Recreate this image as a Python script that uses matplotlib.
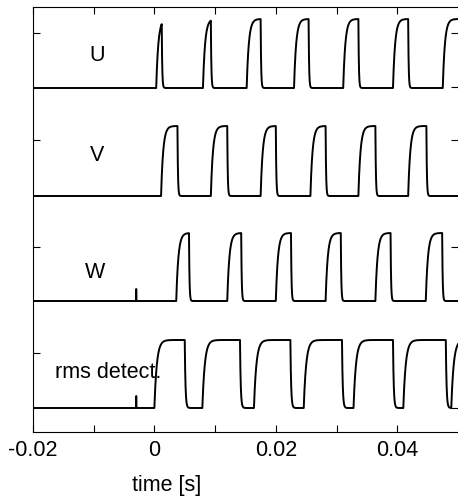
# Three phase signals U, V, W and the rms detector output

import numpy as np
import matplotlib.pyplot as plt

plt.rcParams['font.family'] = ['Liberation Sans', 'DejaVu Sans']

names = ["U", "V", "W", "rms detect."]

# (on, off) times of each high segment [s]
u_pulses = [(0.0003, 0.0012), (0.0080, 0.0093), (0.0152, 0.0175), (0.0230, 0.0254),
            (0.0311, 0.0336), (0.0393, 0.0418), (0.0475, 0.0600)]
v_pulses = [(0.0011, 0.0038), (0.0093, 0.0120), (0.0175, 0.0200), (0.0257, 0.0282),
            (0.0336, 0.0364), (0.0418, 0.0448)]
w_pulses = [(0.0036, 0.0057), (0.0120, 0.0143), (0.0200, 0.0225), (0.0282, 0.0307),
            (0.0364, 0.0389), (0.0447, 0.0474)]
rms_pulses = [(0.0000, 0.0050), (0.0079, 0.0141), (0.0164, 0.0224), (0.0246, 0.0309),
              (0.0328, 0.0393), (0.0410, 0.0480), (0.0489, 0.0600)]

# baseline and height of each trace (stacked offsets)
baselines = [344, 236, 131, 24]
amplitudes = [69, 70, 68, 68]

# small glitch seen on W and rms before t=0
spike_t = -0.0030
spike_h = [0, 0, 12, 12]

left_ticks = [399, 292, 185, 79]
right_ticks = [399, 345, 292, 185, 24]

xticks = [-0.02, -0.01, 0, 0.01, 0.02, 0.03, 0.04]
xticklabels = ["-0.02", "", "0", "", "0.02", "", "0.04"]


def trace(t, pulses, low, amp, tau_r, tau_f, spike):
    target = np.zeros_like(t)
    for on, off in pulses:
        target[(t >= on) & (t < off)] = 1.0
    y = np.zeros_like(t)
    dt = t[1] - t[0]
    for i in range(1, len(t)):
        tau = tau_r if target[i] > y[i-1] else tau_f
        y[i] = y[i-1] + (target[i] - y[i-1]) * (1 - np.exp(-dt / tau))
    y = low + amp * y
    if spike:
        y[np.argmin(abs(t - spike_t))] += spike
    return y


t = np.linspace(-0.02, 0.05, 7001)
all_pulses = [u_pulses, v_pulses, w_pulses, rms_pulses]
taus = [(0.00035, 0.00008), (0.00035, 0.00008), (0.00035, 0.00008), (0.0004, 0.00012)]

fig = plt.figure(figsize=(4.58, 5), dpi=100)
ax = fig.add_axes([33/458, 68/500, 425/458, 425/500])

for i in range(4):
    y = trace(t, all_pulses[i], baselines[i], amplitudes[i], taus[i][0], taus[i][1], spike_h[i])
    ax.plot(t, y, color='black', lw=1.4)

ax.text(-0.0095, 377, names[0], fontsize=15.5, ha='center', va='center')
ax.text(-0.0095, 277, names[1], fontsize=15.5, ha='center', va='center')
ax.text(-0.0098, 160, names[2], fontsize=15.5, ha='center', va='center')
ax.text(-0.0164, 60, names[3], fontsize=15.5, ha='left', va='center')

ax.set_xlim(-0.02, 0.05)
ax.set_ylim(0, 425)
ax.set_xticks(xticks)
ax.set_xticklabels(xticklabels, fontsize=15.5)
ax.set_yticks(left_ticks)
ax.set_yticklabels([])
ax.tick_params(direction='in', top=True, length=5, width=0.8, pad=6)
ax.spines['right'].set_visible(False)

ax2 = ax.twinx()
ax2.set_ylim(0, 425)
ax2.set_yticks(right_ticks)
ax2.set_yticklabels([])
ax2.tick_params(direction='in', length=5, width=0.8)
for s in ax2.spines.values():
    s.set_visible(False)

fig.text(167/458, 1 - 485/500, "time [s]", fontsize=15.5, ha='center', va='center')

fig.savefig("out.png", dpi=100)
